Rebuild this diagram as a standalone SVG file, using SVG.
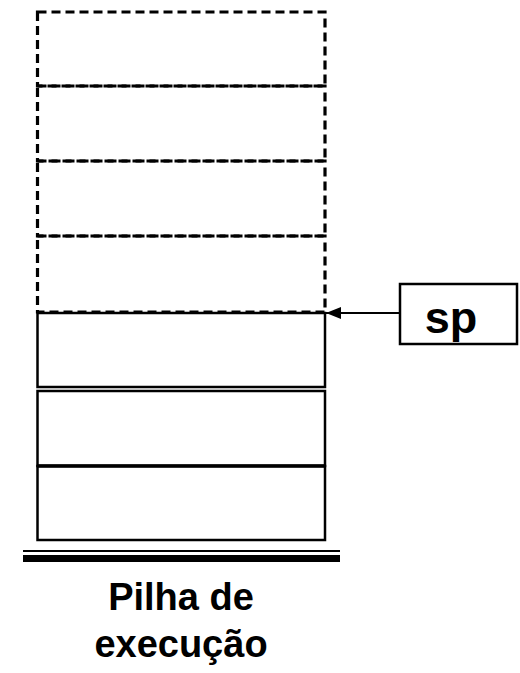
<svg xmlns="http://www.w3.org/2000/svg" width="520" height="673" viewBox="0 0 520 673">
<defs>
<style>
.dash{fill:none;stroke:#000;stroke-width:3.2;stroke-dasharray:9 5}
.solid{fill:#fff;stroke:#000;stroke-width:2.5}
.lbl{font-family:"Liberation Sans",Arial,sans-serif;font-weight:bold;fill:#000;text-anchor:middle}
</style>
<marker id="ah" markerWidth="15" markerHeight="12" refX="15" refY="6" orient="auto" markerUnits="userSpaceOnUse">
<path d="M0,0 L15,6 L0,12 Z" fill="#000"/>
</marker>
</defs>
<rect width="520" height="673" fill="#fff"/>
<g id="frame1"><rect class="dash" x="37.5" y="12" width="287.5" height="74"/></g>
<g id="frame2"><rect class="dash" x="37.5" y="86" width="287.5" height="75"/></g>
<g id="frame3"><rect class="dash" x="37.5" y="161" width="287.5" height="75"/></g>
<g id="frame4"><rect class="dash" x="37.5" y="236" width="287.5" height="76"/></g>
<g id="slot1"><rect class="solid" x="37.5" y="313" width="287.5" height="74"/></g>
<g id="slot2"><rect class="solid" x="37.5" y="391" width="287.5" height="75"/></g>
<g id="slot3"><rect class="solid" x="37.5" y="466" width="287.5" height="74"/><line x1="37" y1="466" x2="325" y2="466" stroke="#000" stroke-width="3.5"/></g>
<g id="base">
<line x1="23" y1="551" x2="340" y2="551" stroke="#000" stroke-width="2"/>
<rect x="23" y="555" width="317" height="7" fill="#000"/>
</g>
<g id="sp"><rect x="400" y="284" width="117" height="60" fill="#fff" stroke="#000" stroke-width="2.5"/>
<text class="lbl" x="451" y="333" font-size="45">sp</text></g>
<g id="connectors"><line x1="400" y1="313" x2="326" y2="313" stroke="#000" stroke-width="2" marker-end="url(#ah)"/></g>
<g id="caption">
<text class="lbl" x="181" y="610" font-size="38">Pilha de</text>
<text class="lbl" x="181" y="657" font-size="38">execução</text>
</g>
</svg>
